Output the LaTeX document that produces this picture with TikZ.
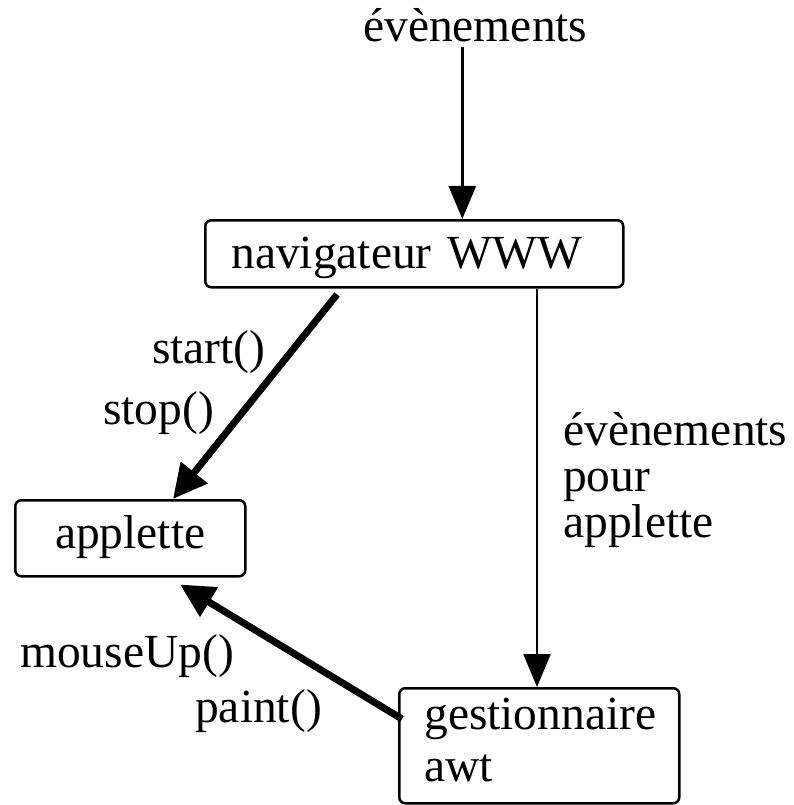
\documentclass[tikz,border=0pt]{standalone}
\usepackage{fontspec}
\setmainfont{Liberation Serif}
\usetikzlibrary{arrows.meta}
\begin{document}
\begin{tikzpicture}[x=1pt,y=1pt,
  lab/.style={font=\fontsize{47.5}{47}\selectfont, inner sep=0pt},
  boxnode/.style={draw, line width=2.5pt, rounded corners=6pt, inner ysep=0pt,
    font=\fontsize{47.5}{52}\selectfont, anchor=north west},
  thinarrow/.style={line width=2.5pt, -{Triangle[length=33pt,width=27pt]}},
  thickarrow/.style={line width=7pt, -{Triangle[length=34pt,width=33pt]}}]
\fill[white] (0,0) rectangle (794,-805);
\useasboundingbox (0,0) rectangle (794,-805);

% boxes
\node[boxnode, inner xsep=26pt, text width=366pt, align=left,
      text height=48pt, text depth=19pt] (nav) at (204,-219) {navigateur WWW};
\node[boxnode, inner xsep=10pt, text width=210pt, align=center,
      text height=48pt, text depth=28pt] (app) at (14,-499) {applette};
\node[boxnode, inner xsep=25pt, text width=230pt, align=left,
      text height=41pt, text depth=74pt] (gest) at (398,-687) {gestionnaire\\awt};

% labels
\node[lab, anchor=base west] (ev) at (363,-42) {évènements};
\node[lab, anchor=base west] (start) at (152,-363) {start()};
\node[lab, anchor=base west] (stop) at (103,-424) {stop()};
\node[lab, anchor=base west] (mouse) at (20,-667) {mouseUp()};
\node[lab, anchor=base west] (paint) at (195,-722) {paint()};
\node[lab, anchor=base west, text width=230pt, align=left,
      font=\fontsize{47.5}{46}\selectfont] (evp) at (563,-445) {évènements\\pour\\applette};

% connectors
\draw[thinarrow] ([xshift=-13pt,yshift=-4pt]ev.south) -- ([xshift=-13pt]ev.south |- nav.north);
\draw[thinarrow] ([xshift=333pt]nav.south west) -- ([xshift=333pt]nav.south west |- gest.north);
\draw[thickarrow] ([xshift=133pt,yshift=-6pt]nav.south west) -- ([xshift=159pt]app.north west);
\draw[thickarrow] ([xshift=4pt,yshift=-32pt]gest.north west) -- ([xshift=166pt,yshift=-7pt]app.south west);
\end{tikzpicture}
\end{document}
